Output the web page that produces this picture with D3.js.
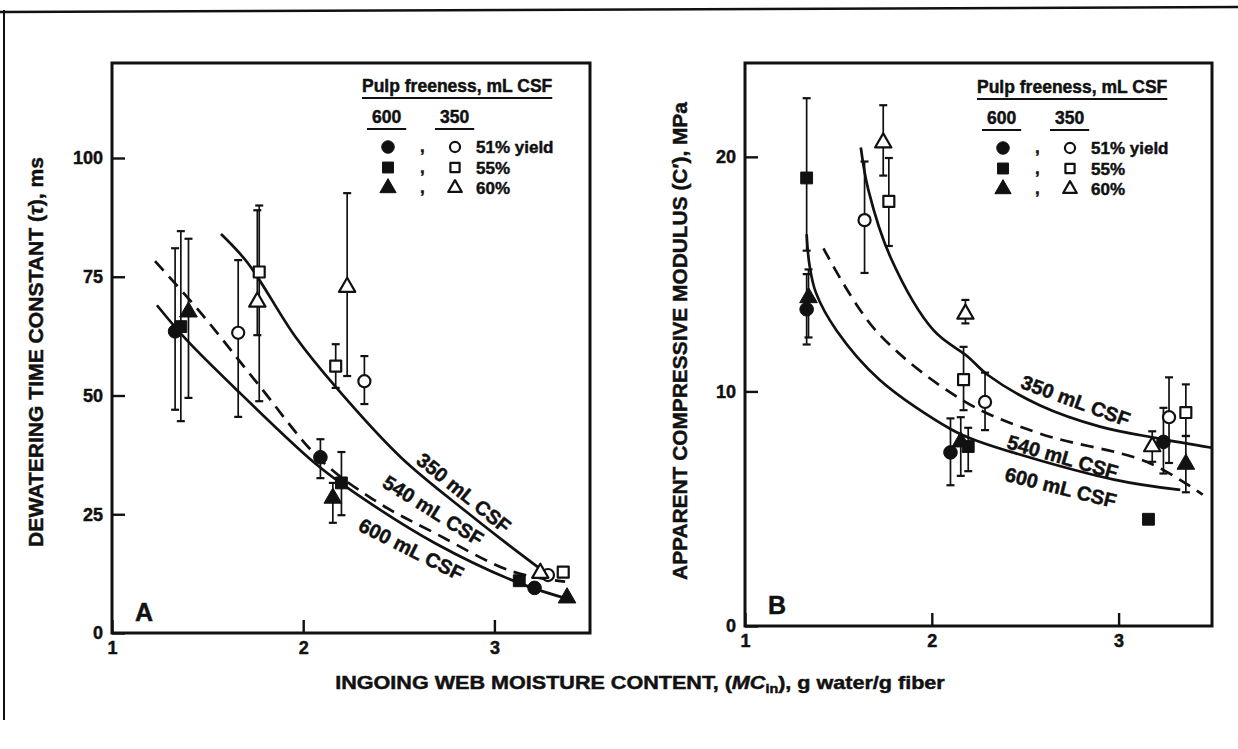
<!DOCTYPE html>
<html><head><meta charset="utf-8">
<script src="https://cdn.jsdelivr.net/npm/d3@7"></script>
<style>
body{margin:0;background:#fff}
text{font-family:"Liberation Sans",Arial,Helvetica,sans-serif;font-weight:bold;fill:#111;stroke:#111;stroke-width:0.45px}
</style>
</head><body>
<svg id="c" width="1238" height="749"></svg>
<script>
// ---------- DATA ----------
const xTicks = [1, 2, 3];
const yTicksA = [0, 25, 50, 75, 100];
const yTicksB = [0, 10, 20];
const legendTitle = "Pulp freeness, mL CSF";
const legendCols = ["600", "350"];
const legendRows = ["51% yield", "55%", "60%"];

// Panel A: dewatering time constant (ms)  {x, y, lo, hi}
const A_600_51 = [{x:1.33,y:63.5,lo:47,hi:81},{x:2.09,y:37,lo:32.6,hi:40.8},{x:3.21,y:9.5}];
const A_600_55 = [{x:1.36,y:64.5,lo:44.6,hi:84.6},{x:2.20,y:31.6,lo:24.8,hi:38.1},{x:3.13,y:11}];
const A_600_60 = [{x:1.40,y:67.6,lo:49.5,hi:83},{x:2.155,y:28.4,lo:23.2,hi:31.6},{x:3.38,y:7.4}];
const A_350_51 = [{x:1.66,y:63.2,lo:45.5,hi:78.5},{x:2.32,y:53,lo:48.2,hi:58.3},{x:3.28,y:12.2}];
const A_350_55 = [{x:1.77,y:76,lo:48.8,hi:90},{x:2.17,y:56.2,lo:51.6,hi:60.8},{x:3.36,y:12.8}];
const A_350_60 = [{x:1.76,y:69.7,lo:62.7,hi:89},{x:2.23,y:72.8,lo:54.1,hi:92.6},{x:3.24,y:12.6}];
// Panel A fitted curves
const A_curve350 = [[1.57,84],[1.71,77.9],[1.96,62.3],[2.17,51.8],[2.51,37],[2.86,25.3],[3.04,19.6],[3.24,13.5]];
const A_curve540 = [[1.225,78.3],[1.46,67.6],[1.76,52.6],[2.09,36.5],[2.39,27.5],[2.69,21],[3.09,13],[3.37,10.8]];
const A_curve600 = [[1.235,69],[1.39,61.7],[1.67,50.5],[2.06,35.8],[2.27,29.5],[2.69,18.9],[3.13,10.5],[3.40,7]];
const A_curveLabels = [{t:"350 mL CSF",x:2.84,y:29.5,a:39},{t:"540 mL CSF",x:2.68,y:25.8,a:32},{t:"600 mL CSF",x:2.565,y:17.6,a:26.6}];

// Panel B: apparent compressive modulus (MPa)
const B_600_51 = [{x:1.33,y:13.5,lo:12.0,hi:15.0},{x:2.10,y:7.4,lo:6.0,hi:8.85},{x:3.24,y:7.85,lo:6.5,hi:9.3}];
const B_600_55 = [{x:1.33,y:19.1,lo:16.0,hi:22.5},{x:2.195,y:7.65,lo:6.6,hi:8.45},{x:3.16,y:4.55}];
const B_600_60 = [{x:1.34,y:14.0,lo:12.3,hi:15.2},{x:2.155,y:7.85,lo:6.4,hi:8.9},{x:3.36,y:6.9,lo:5.7,hi:8.1}];
const B_350_51 = [{x:1.64,y:17.3,lo:15.05,hi:19.8},{x:2.285,y:9.55,lo:8.35,hi:10.8},{x:3.27,y:8.9,lo:6.95,hi:10.6}];
const B_350_55 = [{x:1.77,y:18.1,lo:16.2,hi:19.95},{x:2.17,y:10.5,lo:9.2,hi:11.9},{x:3.36,y:9.1,lo:8.1,hi:10.3}];
const B_350_60 = [{x:1.74,y:20.6,lo:19.2,hi:22.2},{x:2.18,y:13.3,lo:12.9,hi:13.9},{x:3.18,y:7.65,lo:7.0,hi:8.3}];
const B_curve350 = [[1.62,20.4],[1.66,18.6],[1.78,15.7],[2.01,12.6],[2.19,11.5],[2.30,10.7],[2.58,9.4],[2.9,8.5],[3.21,8.0],[3.5,7.6]];
const B_curve540 = [[1.42,16.1],[1.70,12.6],[2.17,9.6],[2.58,8.2],[3.15,7.0],[3.45,5.6]];
const B_curve600 = [[1.33,16.7],[1.345,15.4],[1.38,14.2],[1.49,12.6],[1.72,10.5],[2.10,8.4],[2.24,7.9],[2.97,6.25],[3.33,5.8]];
const B_curveLabels = [{t:"350 mL CSF",x:2.77,y:9.6,a:20},{t:"540 mL CSF",x:2.70,y:7.2,a:16},{t:"600 mL CSF",x:2.69,y:5.9,a:14}];

// ---------- DRAW ----------
const svg = d3.select("#c");
const ink = "#111";

// scan frame
svg.append("line").attr("x1",0).attr("y1",12).attr("x2",1238).attr("y2",7).attr("stroke",ink).attr("stroke-width",2.5);
svg.append("line").attr("x1",4).attr("y1",10).attr("x2",4).attr("y2",720).attr("stroke",ink).attr("stroke-width",2);

function drawMarker(g, shape, filled, px, py, scale=1){
  const s = d3.symbol().type(shape==="circle"?d3.symbolCircle:shape==="square"?d3.symbolSquare:d3.symbolTriangle)
     .size((shape==="circle"?(filled?145:115):shape==="square"?(filled?140:120):(filled?135:115))*scale);
  g.append("path").attr("d", s()).attr("transform",`translate(${px},${py})`)
   .attr("fill", filled?ink:"#fff").attr("stroke",ink).attr("stroke-width",filled?1:2.2)
   .attr("stroke-linejoin","round");
}

function panel(cfg){
  const g = svg.append("g");
  const x = d3.scaleLinear().domain([1,3.5]).range([cfg.l,cfg.r]);
  const y = d3.scaleLinear().domain(cfg.yDom).range([cfg.b,cfg.t]);

  const ax = g.append("g").attr("transform",`translate(${cfg.l},0)`)
    .call(d3.axisLeft(y).tickValues(cfg.yTicks).tickSizeInner(-13).tickSizeOuter(0).tickPadding(9).tickFormat(d3.format("d")));
  const bx = g.append("g").attr("transform",`translate(0,${cfg.b})`)
    .call(d3.axisBottom(x).tickValues(xTicks).tickSizeInner(-13).tickSizeOuter(0).tickPadding(8).tickFormat(d3.format("d")));
  [ax,bx].forEach(a=>{
    a.select(".domain").remove();
    a.selectAll(".tick line").attr("stroke",ink).attr("stroke-width",2.4);
    a.selectAll(".tick text").style("font-size","18px").style("font-family",'"Liberation Sans",Arial,sans-serif')
      .style("font-weight","bold").attr("fill",ink).attr("stroke",ink).attr("stroke-width",0.5);
  });
  g.append("rect").attr("x",cfg.l).attr("y",cfg.t).attr("width",cfg.r-cfg.l).attr("height",cfg.b-cfg.t)
    .attr("fill","none").attr("stroke",ink).attr("stroke-width",3);

  const line = d3.line().x(d=>x(d[0])).y(d=>y(d[1])).curve(d3.curveCatmullRom.alpha(0.5));
  cfg.curves.forEach(c=>{
    g.append("path").attr("d",line(c.pts)).attr("fill","none").attr("stroke",ink)
      .attr("stroke-width",2.7).attr("stroke-dasharray",c.dash?"13,8":null);
  });

  cfg.series.forEach(s=>{
    s.data.forEach(d=>{
      if(d.lo!==undefined){
        const px=x(d.x);
        g.append("line").attr("x1",px).attr("x2",px).attr("y1",y(d.lo)).attr("y2",y(d.hi)).attr("stroke",ink).attr("stroke-width",1.7);
        [d.lo,d.hi].forEach(v=>g.append("line").attr("x1",px-4).attr("x2",px+4).attr("y1",y(v)).attr("y2",y(v)).attr("stroke",ink).attr("stroke-width",2.2));
      }
    });
  });
  cfg.series.forEach(s=>{
    s.data.forEach(d=>drawMarker(g,s.shape,s.filled,x(d.x),y(d.y)));
  });

  cfg.labels.forEach(L=>{
    g.append("text").attr("transform",`translate(${x(L.x)},${y(L.y)}) rotate(${L.a})`)
      .attr("text-anchor","middle").attr("dy","0.35em").style("font-size","20px").text(L.t);
  });

  g.append("text").attr("x",cfg.l+23).attr("y",cfg.b-12).style("font-size","25px").text(cfg.letter);

  const ox=cfg.lx, oy=cfg.ly;
  const tt = g.append("text").attr("x",ox).attr("y",oy).style("font-size","17.5px").text(legendTitle);
  const tw = tt.node().getComputedTextLength();
  g.append("line").attr("x1",ox).attr("x2",ox+tw).attr("y1",oy+6).attr("y2",oy+6).attr("stroke",ink).attr("stroke-width",2);
  const colX=[ox+10, ox+78];
  legendCols.forEach((c,i)=>{
    const t=g.append("text").attr("x",colX[i]).attr("y",oy+31).style("font-size","17.5px").text(c);
    const w=t.node().getComputedTextLength();
    g.append("line").attr("x1",colX[i]-5).attr("x2",colX[i]+w+5).attr("y1",oy+37).attr("y2",oy+37).attr("stroke",ink).attr("stroke-width",2);
  });
  const shapes=["circle","square","triangle"];
  legendRows.forEach((r,i)=>{
    const ry=oy+55+i*20.5;
    drawMarker(g,shapes[i],true,ox+26,ry,0.85);
    g.append("text").attr("x",ox+58).attr("y",ry+5).style("font-size","17px").text(",");
    drawMarker(g,shapes[i],false,ox+93,ry,0.7);
    g.append("text").attr("x",ox+114).attr("y",ry+6).style("font-size","17px").text(r);
  });

  const yt = g.append("text").attr("text-anchor","middle").style("font-size","20px");
  cfg.ytitle(yt);
  const n = yt.node().getComputedTextLength();
  yt.attr("transform",`translate(${cfg.ytx},${cfg.yty}) rotate(-90) scale(${cfg.ytLen/n},1)`).attr("dy","0.35em");
  return {x,y};
}

panel({l:112,t:63,r:590,b:633,yDom:[0,120],yTicks:yTicksA,letter:"A",lx:362,ly:92,
  curves:[{pts:A_curve350},{pts:A_curve540,dash:true},{pts:A_curve600}],
  series:[{data:A_600_51,shape:"circle",filled:true},{data:A_600_55,shape:"square",filled:true},{data:A_600_60,shape:"triangle",filled:true},
          {data:A_350_51,shape:"circle",filled:false},{data:A_350_55,shape:"square",filled:false},{data:A_350_60,shape:"triangle",filled:false}],
  labels:A_curveLabels,
  ytitle:t=>{t.append("tspan").text("DEWATERING TIME CONSTANT (");t.append("tspan").style("font-style","italic").text("τ");t.append("tspan").text("), ms");},
  ytx:36,yty:352,ytLen:390});

panel({l:745,t:63,r:1212,b:626,yDom:[0,24],yTicks:yTicksB,letter:"B",lx:977,ly:93,
  curves:[{pts:B_curve350},{pts:B_curve540,dash:true},{pts:B_curve600}],
  series:[{data:B_600_51,shape:"circle",filled:true},{data:B_600_55,shape:"square",filled:true},{data:B_600_60,shape:"triangle",filled:true},
          {data:B_350_51,shape:"circle",filled:false},{data:B_350_55,shape:"square",filled:false},{data:B_350_60,shape:"triangle",filled:false}],
  labels:B_curveLabels,
  ytitle:t=>{t.text("APPARENT COMPRESSIVE MODULUS (C′), MPa");},
  ytx:680,yty:341,ytLen:478});

const xt = svg.append("text").attr("text-anchor","middle").style("font-size","18px");
xt.append("tspan").text("INGOING WEB MOISTURE CONTENT, (");
xt.append("tspan").style("font-style","italic").text("MC");
xt.append("tspan").attr("dy","4").style("font-size","12px").text("in");
xt.append("tspan").attr("dy","-4").text("), g water/g fiber");
const xn = xt.node().getComputedTextLength();
xt.attr("transform",`translate(640,689) scale(${610/xn},1)`);
</script>
</body></html>
